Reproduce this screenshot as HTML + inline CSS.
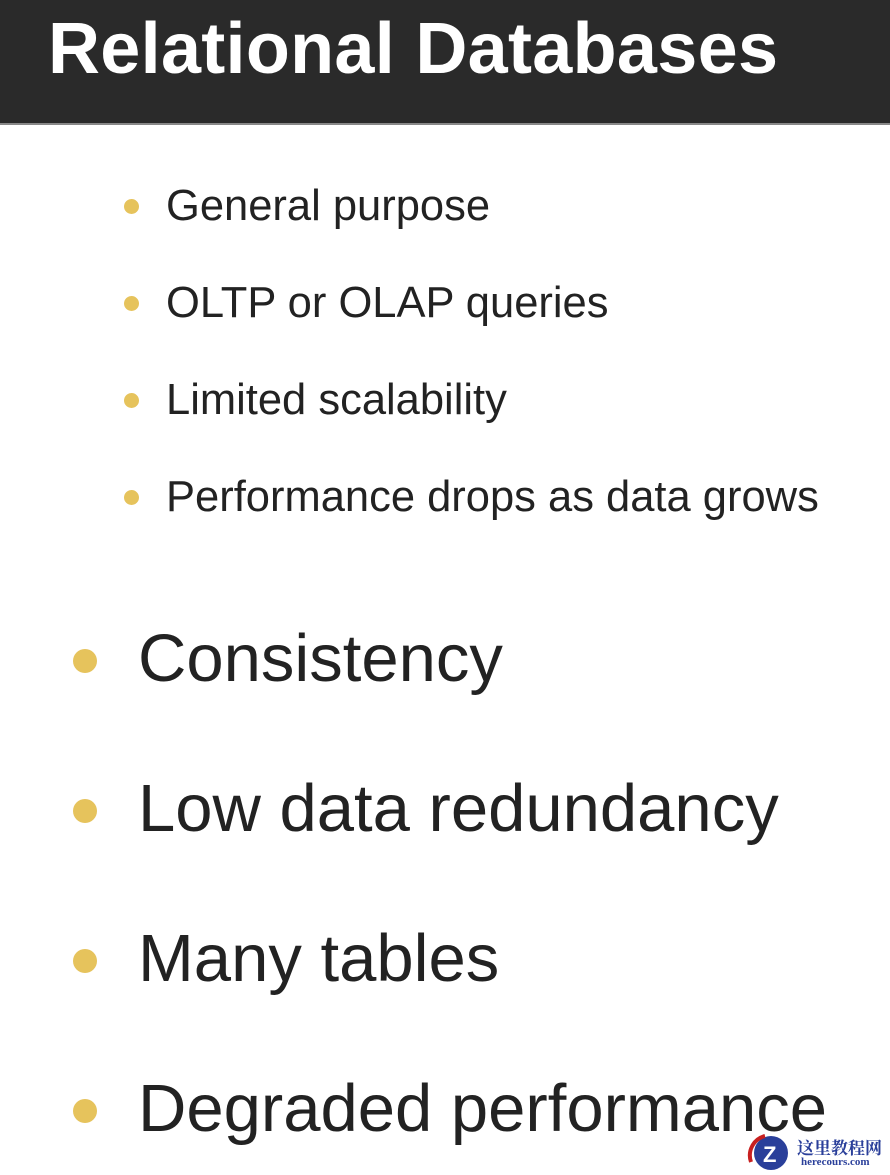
<!DOCTYPE html>
<html><head><meta charset="utf-8"><style>
html,body{margin:0;padding:0;width:890px;height:1175px;background:#fff;overflow:hidden;position:relative;font-family:"Liberation Sans",sans-serif;color:#222}
.hdr{position:absolute;left:0;top:0;width:890px;height:123px;background:#2a2a2a;border-bottom:2px solid #888}
.t{position:absolute;left:48px;top:8px;font-size:72px;font-weight:bold;color:#fff;white-space:nowrap;letter-spacing:0.3px}
.s,.l{position:absolute;white-space:nowrap}
.s{left:166px;font-size:43.5px}
.l{left:138px;font-size:67px}
.d{position:absolute;border-radius:50%;background:#e6c35c}
.ds{width:15px;height:15px;left:124px}
.dl{width:24px;height:24px;left:73px}
.wm{position:absolute;left:745px;top:1132px}
</style></head><body>
<div class="hdr"><div class="t">Relational Databases</div></div>

<div class="d ds" style="top:199px"></div><div class="s" style="top:182px">General purpose</div>
<div class="d ds" style="top:296px"></div><div class="s" style="top:279px">OLTP or OLAP queries</div>
<div class="d ds" style="top:393px"></div><div class="s" style="top:376px">Limited scalability</div>
<div class="d ds" style="top:490px"></div><div class="s" style="top:473px">Performance drops as data grows</div>

<div class="d dl" style="top:649px"></div><div class="l" style="top:620px">Consistency</div>
<div class="d dl" style="top:799px"></div><div class="l" style="top:770px">Low data redundancy</div>
<div class="d dl" style="top:949px"></div><div class="l" style="top:920px">Many tables</div>
<div class="d dl" style="top:1099px"></div><div class="l" style="top:1070px">Degraded performance</div>

<div class="wm">
<svg width="50" height="40" style="position:absolute;left:0;top:0"><circle cx="26" cy="21" r="17" fill="#2a3f9a"/><path d="M6 30 A20 20 0 0 1 20 4" stroke="#c82020" stroke-width="4" fill="none"/><text x="18" y="30" font-size="22" font-weight="bold" fill="#fff" font-family="Liberation Sans">Z</text></svg>
<div style="position:absolute;left:52px;top:2px;font-size:17px;font-weight:bold;color:#2a3f9a;font-family:'Liberation Serif','Noto Serif CJK SC',serif;white-space:nowrap">这里教程网</div>
<div style="position:absolute;left:56px;top:24px;font-size:11px;font-weight:bold;color:#2a3f9a;font-family:'Liberation Serif',serif">herecours.com</div>
</div>
</body></html>
